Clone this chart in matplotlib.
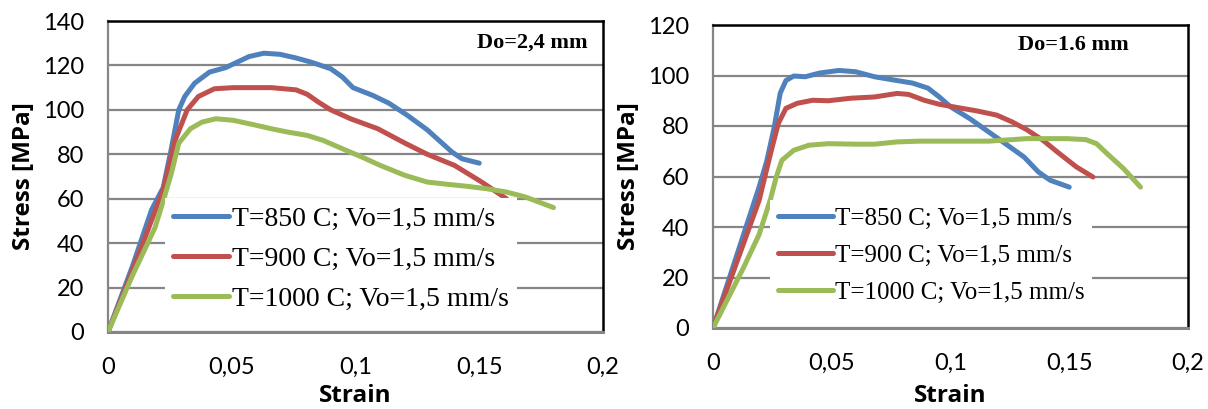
import matplotlib
matplotlib.use("Agg")
import matplotlib.pyplot as plt

# ---------------- data ----------------
labels = ["T=850 C; Vo=1,5 mm/s", "T=900 C; Vo=1,5 mm/s", "T=1000 C; Vo=1,5 mm/s"]
colors = ["#4F81BD", "#C0504D", "#9BBB59"]

# Left panel, Do=2,4 mm
l850_x = [0, 0.010, 0.0176, 0.0223, 0.0255, 0.0286, 0.031, 0.035, 0.041, 0.0475, 0.057, 0.063, 0.0695,
          0.0758, 0.082, 0.090, 0.0947, 0.099, 0.107, 0.1135, 0.121, 0.129, 0.134, 0.139, 0.143, 0.150]
l850_y = [0, 30, 55, 65, 82, 100, 106, 112, 117, 119, 124, 125.5, 125, 123.4, 121.5, 118.5, 114.8,
          110, 106.5, 103, 97.5, 91, 86, 81, 78, 76]
l900_x = [0, 0.010, 0.0223, 0.027, 0.032, 0.0365, 0.043, 0.0506, 0.066, 0.076, 0.0805, 0.085, 0.090,
          0.098, 0.109, 0.120, 0.129, 0.140, 0.151, 0.161]
l900_y = [0, 28, 64, 86, 100, 106, 109.5, 110, 110, 109, 107, 103.5, 100, 96, 91.5, 85, 80, 75, 67.5, 60]
l1000_x = [0, 0.0097, 0.019, 0.0223, 0.0255, 0.0286, 0.0333, 0.038, 0.0436, 0.0506, 0.0585, 0.066,
           0.0726, 0.0805, 0.0868, 0.0947, 0.1025, 0.110, 0.120, 0.129, 0.137, 0.145, 0.153, 0.161,
           0.1686, 0.180]
l1000_y = [0, 25, 47, 59, 71, 85, 91.5, 94.5, 96, 95.3, 93.4, 91.5, 90, 88.5, 86.3, 82.5, 78.8, 75,
           70.5, 67.5, 66.5, 65.6, 64.5, 63, 60.8, 56]

# Right panel, Do=1.6 mm
r850_x = [0, 0.0194, 0.0226, 0.0258, 0.0283, 0.0307, 0.034, 0.0388, 0.045, 0.053, 0.060, 0.068,
          0.0775, 0.084, 0.0905, 0.0953, 0.100, 0.108, 0.116, 0.124, 0.131, 0.137, 0.142, 0.150]
r850_y = [0, 55.8, 66, 79.6, 93, 98, 99.8, 99.5, 101, 102, 101.5, 99.5, 98, 97, 95, 91.5, 87.6,
          83, 77.7, 72.4, 67.7, 61.8, 58.5, 55.8]
r900_x = [0, 0.0194, 0.0242, 0.0275, 0.0307, 0.0355, 0.042, 0.0485, 0.058, 0.068, 0.0775, 0.0824,
          0.0889, 0.0953, 0.103, 0.111, 0.1195, 0.126, 0.132, 0.139, 0.145, 0.153, 0.160]
r900_y = [0, 50.5, 69, 81, 87, 89, 90.2, 90, 91, 91.5, 92.9, 92.5, 90.2, 88.6, 87.3, 86, 84.3, 81.6,
          78.6, 74.3, 69.7, 63.8, 59.8]
r1000_x = [0, 0.0129, 0.0194, 0.0242, 0.0267, 0.029, 0.034, 0.0404, 0.0485, 0.060, 0.068, 0.0775,
           0.087, 0.100, 0.116, 0.126, 0.132, 0.149, 0.157, 0.1615, 0.166, 0.173, 0.180]
r1000_y = [0, 24, 37, 51, 60, 66.4, 70.4, 72.4, 73, 72.8, 72.8, 73.7, 74, 74, 74, 74.6, 75, 75, 74.6,
           73, 69, 63, 55.8]

x_ticks = [0, 0.05, 0.1, 0.15, 0.2]
x_ticklabels = ["0", "0,05", "0,1", "0,15", "0,2"]
left_yticks = [0, 20, 40, 60, 80, 100, 120, 140]
right_yticks = [0, 20, 40, 60, 80, 100, 120]

# ---------------- figure ----------------
W, H = 1208, 409
fig = plt.figure(figsize=(W / 100, H / 100), dpi=100)

tick_font = "Lato"
serif = "Liberation Serif"
grid_col = "#868686"


def make_panel(rect, series, yticks, ymax, title, title_xy, leg_anchor, leg_size, leg_spacing,
               handle_len, xlabelpad):
    ax = fig.add_axes(rect)
    for (xs, ys), c, lab in zip(series, colors, labels):
        ax.plot(xs, ys, color=c, lw=3.6, label=lab, solid_capstyle="round", solid_joinstyle="round",
                zorder=3)
    ax.set_xlim(0, 0.2)
    ax.set_ylim(0, ymax)
    ax.set_xticks(x_ticks)
    ax.set_xticklabels(x_ticklabels)
    ax.set_yticks(yticks)
    ax.yaxis.grid(True, color=grid_col, lw=1.6)
    ax.set_axisbelow(True)
    ax.tick_params(length=0, labelsize=17)
    ax.tick_params(axis="x", pad=18)
    ax.tick_params(axis="y", pad=17)
    for lbl in ax.get_xticklabels() + ax.get_yticklabels():
        lbl.set_fontfamily(tick_font)
    ax.spines["left"].set_color(grid_col)
    ax.spines["bottom"].set_color(grid_col)
    ax.spines["left"].set_linewidth(1.6)
    ax.spines["bottom"].set_linewidth(2.2)
    ax.spines["top"].set_color("black")
    ax.spines["right"].set_color("black")
    ax.spines["top"].set_linewidth(1.8)
    ax.spines["right"].set_linewidth(1.8)
    ax.set_xlabel("Strain", fontsize=17.5, fontweight="bold", family="Open Sans", labelpad=xlabelpad)
    ax.set_ylabel("Stress [MPa]", fontsize=17.5, fontweight="bold", family="Open Sans", labelpad=5)
    ax.text(title_xy[0], title_xy[1], title, transform=ax.transAxes, ha="right", va="center",
            fontsize=16, fontweight="bold", family=serif)
    leg = ax.legend(loc="upper left", bbox_to_anchor=leg_anchor, frameon=True, fancybox=False,
                    edgecolor="none", facecolor="white", framealpha=1,
                    prop={"family": serif, "size": leg_size},
                    handlelength=handle_len, handletextpad=0.1, labelspacing=leg_spacing,
                    borderpad=0.3, borderaxespad=0)
    leg.set_zorder(5)
    return ax


make_panel([108 / W, 1 - 332 / H, 495 / W, 311 / H],
           [(l850_x, l850_y), (l900_x, l900_y), (l1000_x, l1000_y)],
           left_yticks, 140, "Do=2,4 mm", (0.968, 0.929), (0.115, 0.431), 20, 0.52, 2.0, 4)
make_panel([713 / W, 1 - 328 / H, 475 / W, 303 / H],
           [(r850_x, r850_y), (r900_x, r900_y), (r1000_x, r1000_y)],
           right_yticks, 120, "Do=1.6 mm", (0.876, 0.934), (0.12, 0.422), 18, 0.58, 2.2, 7)

fig.savefig("out.png", dpi=100)
